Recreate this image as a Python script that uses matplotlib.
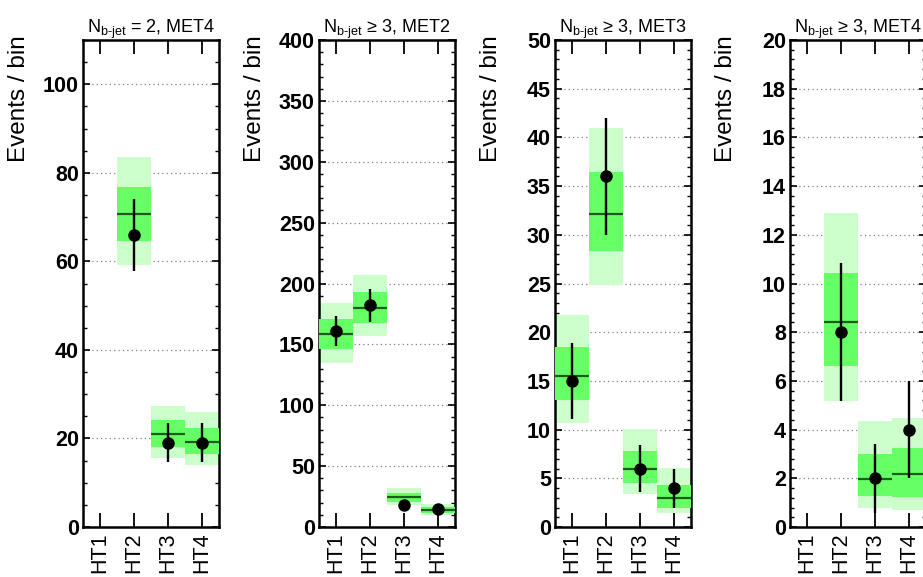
import numpy as np
import matplotlib
matplotlib.use("Agg")
import matplotlib.pyplot as plt
from matplotlib.ticker import MultipleLocator

plt.rcParams["font.family"] = ["Liberation Sans", "DejaVu Sans"]
plt.rcParams["mathtext.fontset"] = "custom"
plt.rcParams["mathtext.rm"] = "Liberation Sans"
plt.rcParams["mathtext.it"] = "Liberation Sans"

nan = np.nan
categories = ["HT1", "HT2", "HT3", "HT4"]

titles = [
    r"N$_{\mathregular{b‐jet}}$ = 2, MET4",
    r"N$_{\mathregular{b‐jet}}$ ≥ 3, MET2",
    r"N$_{\mathregular{b‐jet}}$ ≥ 3, MET3",
    r"N$_{\mathregular{b‐jet}}$ ≥ 3, MET4",
]

# observed counts and their error bars
obs_nb2_met4 = [nan, 66, 19, 19]
err_nb2_met4 = [0, 8.1, 4.4, 4.4]
obs_nb3_met2 = [161, 182, 18, 15]
err_nb3_met2 = [12.7, 13.5, 4.2, 3.9]
obs_nb3_met3 = [15, 36, 6, 4]
err_nb3_met3 = [3.9, 6.0, 2.45, 2.0]
obs_nb3_met4 = [nan, 8, 2, 4]
err_nb3_met4 = [0, 2.83, 1.41, 2.0]

# predicted median with 68% and 95% bands
pred_nb2_met4 = [nan, 70.6, 20.9, 19.1]
b1lo_nb2_met4 = [nan, 64.7, 18.1, 16.5]
b1hi_nb2_met4 = [nan, 76.9, 24.1, 22.3]
b2lo_nb2_met4 = [nan, 59.2, 15.5, 14.0]
b2hi_nb2_met4 = [nan, 83.5, 27.4, 25.9]

pred_nb3_met2 = [158.3, 179.6, 24.4, 14.0]
b1lo_nb3_met2 = [146.0, 167.8, 20.8, 11.2]
b1hi_nb3_met2 = [170.6, 192.8, 27.7, 16.7]
b2lo_nb3_met2 = [135.0, 156.9, 18.1, 9.6]
b2hi_nb3_met2 = [183.7, 206.7, 31.8, 18.9]

pred_nb3_met3 = [15.5, 32.1, 6.0, 3.0]
b1lo_nb3_met3 = [13.0, 28.3, 4.55, 2.0]
b1hi_nb3_met3 = [18.5, 36.4, 7.8, 4.3]
b2lo_nb3_met3 = [10.7, 24.8, 3.36, 1.4]
b2hi_nb3_met3 = [21.8, 41.0, 10.1, 6.1]

pred_nb3_met4 = [nan, 8.4, 1.97, 2.16]
b1lo_nb3_met4 = [nan, 6.6, 1.27, 1.24]
b1hi_nb3_met4 = [nan, 10.45, 3.0, 3.23]
b2lo_nb3_met4 = [nan, 5.19, 0.8, 0.7]
b2hi_nb3_met4 = [nan, 12.9, 4.37, 4.49]

panels = [
    (obs_nb2_met4, err_nb2_met4, pred_nb2_met4, b1lo_nb2_met4, b1hi_nb2_met4, b2lo_nb2_met4, b2hi_nb2_met4),
    (obs_nb3_met2, err_nb3_met2, pred_nb3_met2, b1lo_nb3_met2, b1hi_nb3_met2, b2lo_nb3_met2, b2hi_nb3_met2),
    (obs_nb3_met3, err_nb3_met3, pred_nb3_met3, b1lo_nb3_met3, b1hi_nb3_met3, b2lo_nb3_met3, b2hi_nb3_met3),
    (obs_nb3_met4, err_nb3_met4, pred_nb3_met4, b1lo_nb3_met4, b1hi_nb3_met4, b2lo_nb3_met4, b2hi_nb3_met4),
]
y_max = [110, 400, 50, 20]
y_major = [20, 50, 5, 2]
y_minor = [5, 10, 1, 0.4]

W, H = 923, 577
fig = plt.figure(figsize=(W / 100, H / 100), dpi=100)
lefts_px = [83, 319, 555, 790]
ax_w, ax_top, ax_bot = 136, 40, 527

x = np.arange(len(categories)) + 0.5
for i, (obs, err, pred, b1lo, b1hi, b2lo, b2hi) in enumerate(panels):
    ax = fig.add_axes([lefts_px[i] / W, 1 - ax_bot / H, ax_w / W, (ax_bot - ax_top) / H])
    obs, err, pred = map(np.asarray, (obs, err, pred))
    b1lo, b1hi, b2lo, b2hi = map(np.asarray, (b1lo, b1hi, b2lo, b2hi))

    ax.bar(x, b2hi - b2lo, bottom=b2lo, width=1.0, color="#ccffcc", lw=0, zorder=2)
    ax.bar(x, b1hi - b1lo, bottom=b1lo, width=1.0, color="#66ff66", lw=0, zorder=3)
    ax.hlines(pred, x - 0.5, x + 0.5, color="#1f5a1f", lw=1.6, zorder=4)
    ax.errorbar(x, obs, yerr=err, fmt="o", color="black", ms=8, elinewidth=1.7,
                capsize=0, zorder=5)

    ax.set_xlim(0, 4)
    ax.set_ylim(0, y_max[i])
    ax.set_xticks(x)
    ax.set_xticklabels(categories, rotation=90, fontsize=15.5)
    ax.yaxis.set_major_locator(MultipleLocator(y_major[i]))
    ax.yaxis.set_minor_locator(MultipleLocator(y_minor[i]))
    ax.tick_params(axis="x", direction="in", length=10, width=1.3, top=True, pad=4)
    ax.tick_params(axis="y", which="major", direction="in", length=5, width=1.2,
                   right=True, labelsize=15.5, pad=3)
    ax.tick_params(axis="y", which="minor", direction="in", length=3, width=1.0, right=True)
    for lbl in ax.get_yticklabels():
        lbl.set_fontweight("bold")
    ax.grid(axis="y", which="major", color="#808080", ls=(0, (1, 2.5)), lw=0.9, zorder=1)
    for s in ax.spines.values():
        s.set_linewidth(1.8)

    ax.set_title(titles[i], fontsize=13, pad=5)
    ax.set_ylabel("Events / bin", fontsize=17.5, ha="right", va="bottom")
    ax.yaxis.set_label_coords(-0.39, 1.01)
    ax.set_axisbelow(True)

fig.savefig("out.png", dpi=100)
